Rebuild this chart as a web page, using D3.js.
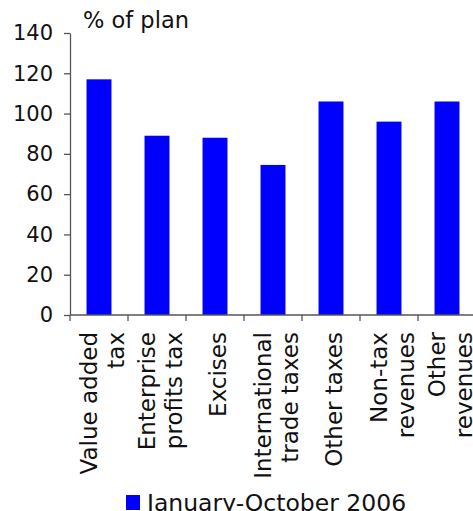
<!DOCTYPE html>
<html>
<head>
<meta charset="utf-8">
<script src="https://cdn.jsdelivr.net/npm/d3@7"></script>
<style>
  body { margin: 0; background: #fff; }
  svg { display: block; font-family: "DejaVu Sans", Verdana, sans-serif; }
</style>
</head>
<body>
<svg id="mainContainer"></svg>
<script>
// chart data
var categories = ["Value added tax", "Enterprise profits tax", "Excises", "International trade taxes",
                  "Other taxes", "Non-tax revenues", "Other revenues"];
var labelLines = [["Value added", "tax"], ["Enterprise", "profits tax"], ["Excises"],
                  ["International", "trade taxes"], ["Other taxes"], ["Non-tax", "revenues"],
                  ["Other", "revenues"]];
var values = [117, 89, 88, 74.5, 106, 96, 106];
var yTicks = [0, 20, 40, 60, 80, 100, 120, 140];
var seriesName = "January-October 2006";
var unitLabel = "% of plan";

var svgWidth = 473;
var svgHeight = 511;
var axisColor = "#555";
var barColor = "#0000ff";

var svg = d3.select('#mainContainer')
    .attr('width', svgWidth)
    .attr('height', svgHeight);

var x = d3.scaleBand()
    .domain(categories)
    .range([70, 476])
    .paddingInner(0.57)
    .paddingOuter(0.285);

var y = d3.scaleLinear()
    .domain([0, 140])
    .range([315, 33]);

// bars
svg.append('g')
    .selectAll('rect')
    .data(values)
    .enter()
    .append('rect')
    .attr('x', function(d, i){ return x(categories[i]); })
    .attr('width', x.bandwidth())
    .attr('y', function(d){ return y(d); })
    .attr('height', function(d){ return y(0) - y(d); })
    .attr('fill', barColor);

// y axis
var yAxis = svg.append('g')
    .attr('transform', 'translate(70,0)')
    .call(d3.axisLeft(y).tickValues(yTicks).tickSize(6).tickSizeOuter(0).tickPadding(11));
yAxis.select('.domain').attr('stroke', axisColor).attr('stroke-width', 1.3);
yAxis.selectAll('.tick line').attr('stroke', axisColor).attr('stroke-width', 1.3);
yAxis.selectAll('.tick text')
    .attr('fill', '#111')
    .style('font-size', '21px')
    .style('font-family', '"DejaVu Sans", Verdana, sans-serif');

// x axis line and ticks on band edges
var step = x.step();
var edges = d3.range(categories.length + 1).map(function(i){ return 70 + i * step; });
svg.append('line')
    .attr('x1', 70).attr('x2', 476)
    .attr('y1', y(0)).attr('y2', y(0))
    .attr('stroke', axisColor).attr('stroke-width', 1.3);
svg.append('g')
    .selectAll('line')
    .data(edges)
    .enter()
    .append('line')
    .attr('x1', function(d){ return d; })
    .attr('x2', function(d){ return d; })
    .attr('y1', y(0))
    .attr('y2', y(0) + 6)
    .attr('stroke', axisColor).attr('stroke-width', 1.3);

// category labels, rotated
var labelGroups = svg.append('g')
    .selectAll('g')
    .data(categories)
    .enter()
    .append('g')
    .attr('transform', function(d){ return 'translate(' + (x(d) + x.bandwidth() / 2) + ',332) rotate(-90)'; });

labelGroups.each(function(d, i){
    var lines = labelLines[i];
    var g = d3.select(this);
    lines.forEach(function(t, j){
        g.append('text')
            .attr('x', 0)
            .attr('y', 11 + (j - (lines.length - 1) / 2) * 27)
            .attr('text-anchor', 'end')
            .style('font-size', '23px')
            .attr('fill', '#111')
            .text(t);
    });
});

// unit label
svg.append('text')
    .attr('x', 83)
    .attr('y', 28)
    .style('font-size', '22.5px')
    .attr('fill', '#111')
    .text(unitLabel);

// legend
svg.append('rect')
    .attr('x', 126).attr('y', 495)
    .attr('width', 14).attr('height', 15)
    .attr('fill', barColor);
svg.append('text')
    .attr('x', 147)
    .attr('y', 511)
    .style('font-size', '23.5px')
    .attr('fill', '#111')
    .text(seriesName);
</script>
</body>
</html>
